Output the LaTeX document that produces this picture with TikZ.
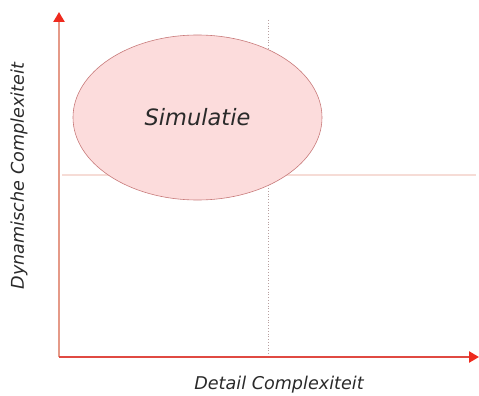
\documentclass[tikz,border=0pt]{standalone}
\usepackage{fontspec}
\setmainfont{DejaVu Sans}
\usepackage{tikz}
\usetikzlibrary{arrows.meta,positioning,shapes.geometric}
\definecolor{axisv}{HTML}{E59A88}
\definecolor{axish}{HTML}{E04A42}
\definecolor{tipred}{HTML}{EE2A1E}
\definecolor{blobfill}{HTML}{FCDCDC}
\definecolor{blobline}{HTML}{C87A7A}
\definecolor{gridpink}{HTML}{F6DCD6}
\definecolor{dotgray}{HTML}{B8A0A0}
\definecolor{txt}{HTML}{2A2A2A}

\begin{document}
\begin{tikzpicture}[
          x=1pt, y=-1pt,
          axis/.style = {line width=2.6pt, -{Triangle[length=10pt, width=11pt, fill=tipred, color=tipred]}},
          blob/.style = {ellipse, draw=blobline, fill=blobfill, line width=0.6pt,
                         minimum width=249pt, minimum height=165pt, inner sep=0pt},
          lbl/.style  = {font=\fontsize{17.6}{20}\selectfont\itshape, text=txt},
        ]
        \useasboundingbox (0,0) rectangle (479,396);
        \coordinate (o)    at (59,357);
        \coordinate (ytop) at (59,12);
        \coordinate (xend) at (479,357);
        \coordinate (hl)   at (62,175);
        \coordinate (hr)   at (476,175);
        \coordinate (vt)   at (268,20);
        \coordinate (vb)   at (268,354);

        \draw[gridpink, line width=2pt] (hl) -- (hr);
        \draw[dotgray, dotted, line width=0.8pt] (vt) -- (vb);
        \node[blob] (sim) at (197.5,117.5) {};
        \node[font=\fontsize{22.5}{26}\selectfont\itshape, text=txt] (simtxt) at (sim.center) {Simulatie};

        \draw[axis, axisv] (o) -- (ytop);
        \draw[axis, axish] (o) -- (xend);

        \node[lbl, rotate=90] (ylbl) at (19,176) {Dynamische Complexiteit};
        \node[lbl] (xlbl) at (279,385) {Detail Complexiteit};
      \end{tikzpicture}
\end{document}
